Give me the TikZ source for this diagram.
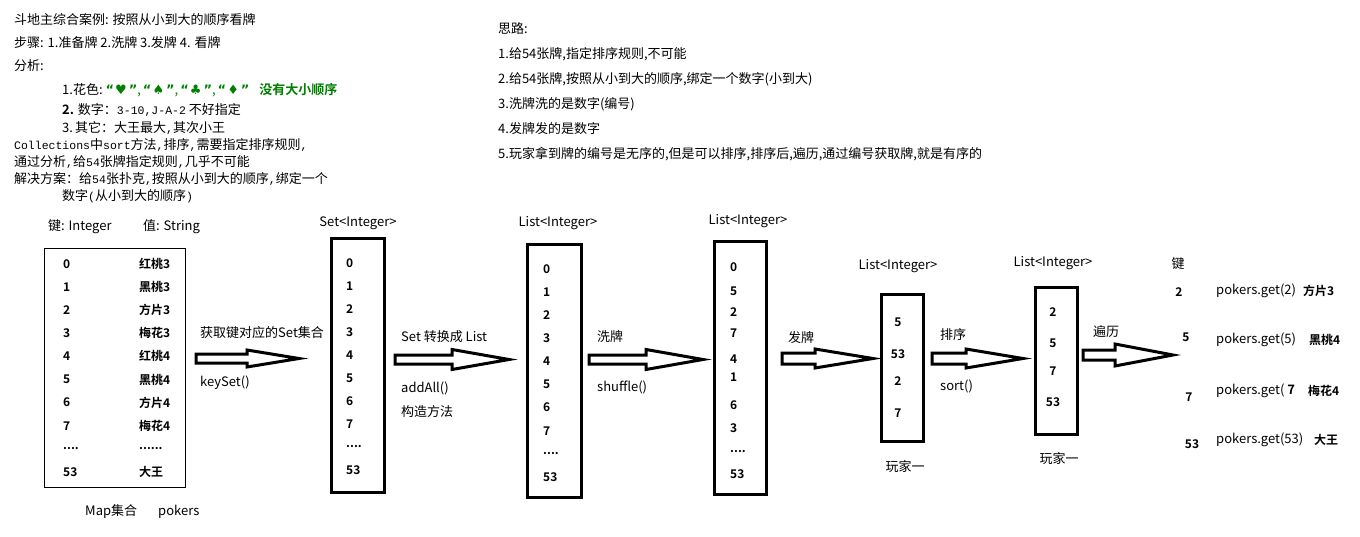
\documentclass[tikz,border=0pt]{standalone}
\usepackage{fontspec}
\setmainfont{Noto Sans CJK SC}[BoldFont={Noto Sans CJK SC Bold}]
\newfontfamily\symf{DejaVu Sans}
\newfontfamily\monof{Liberation Mono}
\definecolor{dkgreen}{RGB}{0,128,0}
\newcommand\myft{\fontsize{13}{15}\selectfont}
\newcommand\mm[1]{{\monof\fontsize{11.5}{13}\selectfont #1}}
\newcommand\suit[1]{{\symf\fontsize{13}{15}\selectfont #1}}
\newcommand\sq[1]{{\symf\bfseries “}\hspace{1pt}\suit{#1}\hspace{2pt}{\symf\bfseries ”}}
\newcommand\fourdots{....}
\newcommand\sixdots{......}
\newcommand\barrow[6]{%
  \draw[arrowline] (#1,#4-#5) -- (#2,#4-#5) -- (#2,#4-#6) -- (#3,#4)
    -- (#2,#4+#6) -- (#2,#4+#5) -- (#1,#4+#5) -- cycle;}
\tikzset{
  txt/.style={anchor=west, inner sep=0pt, font=\myft},
  ctxt/.style={anchor=center, inner sep=0pt, font=\myft},
  num/.style={anchor=west, inner sep=0pt, font=\bfseries\fontsize{12}{14}\selectfont},
  cnum/.style={anchor=center, inner sep=0pt, font=\bfseries\fontsize{12}{14}\selectfont},
  thinbox/.style={draw, line width=1pt, anchor=north west, inner sep=0pt},
  thickbox/.style={draw, line width=3.2pt, anchor=north west, inner sep=0pt},
  arrowline/.style={draw, line width=3pt, line join=miter}
}
\begin{document}
\begin{tikzpicture}[x=1pt,y=-1pt]
\fill[white] (0,0) rectangle (1360,537);
\useasboundingbox (0,0) rectangle (1360,537);

% top-left notes
\node[txt] (t1) at (14,20) {斗地主综合案例: 按照从小到大的顺序看牌};
\node[txt] (t2) at (14,43) {步骤: 1.准备牌 2.洗牌 3.发牌 4. 看牌};
\node[txt] (t3) at (14,66) {分析:};
\node[txt] (t4) at (62,90) {1.花色:\hspace{3pt}\textcolor{dkgreen}{\sq{♥},\hspace{2pt}\sq{♠},\hspace{2pt}\sq{♣},\hspace{2pt}\sq{♦}\hspace{10pt}\textbf{没有大小顺序}}};
\node[txt] (t5) at (62,110) {\textbf{2.} 数字：\mm{3-10,J-A-2} 不好指定};
\node[txt] (t6) at (62,128) {3.\,其它：大王最大\mm{,}其次小王};
\node[txt] (t7) at (14,145) {\mm{Collections}中\mm{sort}方法\mm{,}排序\mm{,}需要指定排序规则\mm{,}};
\node[txt] (t8) at (14,162) {通过分析\mm{,}给\mm{54}张牌指定规则\mm{,}几乎不可能};
\node[txt] (t9) at (14,179) {解决方案：给\mm{54}张扑克\mm{,}按照从小到大的顺序\mm{,}绑定一个};
\node[txt] (t10) at (62,196) {数字\mm{(}从小到大的顺序\mm{)}};

% top-right notes
\node[txt] (r0) at (498,29) {思路:};
\node[txt] (r1) at (498,54) {1.给54张牌,指定排序规则,不可能};
\node[txt] (r2) at (498,79) {2.给54张牌,按照从小到大的顺序,绑定一个数字(小到大)};
\node[txt] (r3) at (498,104) {3.洗牌洗的是数字(编号)};
\node[txt] (r4) at (498,129) {4.发牌发的是数字};
\node[txt] (r5) at (498,154) {5.玩家拿到牌的编号是无序的,但是可以排序,排序后,遍历,通过编号获取牌,就是有序的};

% Map box
\node[txt] (mkh) at (48,227) {键: Integer};
\node[txt] (mvh) at (143,227) {值: String};
\node[thinbox, minimum width=141pt, minimum height=239pt] (map) at (44,248) {};
\foreach \k/\v [count=\i] in {0/红桃3,1/黑桃3,2/方片3,3/梅花3,4/红桃4,5/黑桃4,6/方片4,7/梅花4,\fourdots/\sixdots,53/大王}{
  \node[num] (mk\i) at (63,{264+(\i-1)*23.1}) {\k};
  \node[num] (mv\i) at (139,{264+(\i-1)*23.1}) {\v};
}
\node[txt] (mapl) at (85,512) {Map集合};
\node[txt] (mapp) at (158,512) {pokers};

% Set box
\node[ctxt] (seth) at (358,223) {Set<Integer>};
\node[thickbox, minimum width=53pt, minimum height=254pt] (set) at (330,237) {};
\foreach \k [count=\i] in {0,1,2,3,4,5,6,7,\fourdots,53}{
  \node[num] (s\i) at (346,{263+(\i-1)*23}) {\k};
}

% List box 1
\node[ctxt] (l1h) at (558,223) {List<Integer>};
\node[thickbox, minimum width=54pt, minimum height=253pt] (list1) at (526,243) {};
\foreach \k [count=\i] in {0,1,2,3,4,5,6,7,\fourdots,53}{
  \node[num] (la\i) at (543,{269+(\i-1)*23.1}) {\k};
}

% List box 2 (shuffled)
\node[ctxt] (l2h) at (748,221) {List<Integer>};
\node[thickbox, minimum width=52pt, minimum height=253pt] (list2) at (713,240) {};
\foreach \k/\y [count=\i] in {0/267,5/291,2/312,7/333,4/359,1/377,6/405,3/428,\fourdots/452,53/474}{
  \node[num] (lb\i) at (730,\y) {\k};
}

% Player box 1
\node[ctxt] (p1h) at (898,266) {List<Integer>};
\node[thickbox, minimum width=42pt, minimum height=147pt] (p1) at (880,293) {};
\foreach \k/\y [count=\i] in {5/322,53/354,2/381,7/413}{
  \node[cnum] (pa\i) at (898,\y) {\k};
}
\node[ctxt] (p1l) at (905,467) {玩家一};

% Player box 2
\node[ctxt] (p2h) at (1053,263) {List<Integer>};
\node[thickbox, minimum width=42pt, minimum height=147pt] (p2) at (1034,286) {};
\foreach \k/\y [count=\i] in {2/312,5/343,7/371,53/402}{
  \node[cnum] (pb\i) at (1053,\y) {\k};
}
\node[ctxt] (p2l) at (1059,459) {玩家一};

% right side results
\node[ctxt] (kh) at (1178,264) {键};
\node[cnum] (k1) at (1179,292) {2};
\node[cnum] (k2) at (1186,337) {5};
\node[cnum] (k3) at (1189,397) {7};
\node[cnum] (k4) at (1192,444) {53};
\node[txt] (g1) at (1216,291) {pokers.get(2)};
\node[num] (v1) at (1303,291) {方片3};
\node[txt] (g2) at (1216,340) {pokers.get(5)};
\node[num] (v2) at (1309,340) {黑桃4};
\node[txt] (g3) at (1216,391) {pokers.get( \textbf{7}};
\node[num] (v3) at (1308,391) {梅花4};
\node[txt] (g4) at (1216,440) {pokers.get(53)};
\node[num] (v4) at (1314,440) {大王};

% block arrows
\barrow{196}{247}{299}{358.5}{4.5}{8.5}
\barrow{395}{452}{509}{359.5}{4.5}{10}
\barrow{589}{646}{703}{359.5}{4.5}{10}
\barrow{782}{815}{873}{358.5}{5.5}{9.5}
\barrow{932}{966}{1023}{358.5}{5.5}{9.5}
\barrow{1083}{1115}{1173}{355}{5}{11}

% arrow labels
\node[txt] (a1t) at (200,333) {获取键对应的Set集合};
\node[txt] (a1b) at (200,383) {keySet()};
\node[txt] (a2t) at (401,337) {Set 转换成 List};
\node[txt] (a2b) at (401,388) {addAll()};
\node[txt] (a2c) at (401,412) {构造方法};
\node[txt] (a3t) at (597,337) {洗牌};
\node[txt] (a3b) at (597,387) {shuffle()};
\node[txt] (a4t) at (788,338) {发牌};
\node[txt] (a5t) at (940,335) {排序};
\node[txt] (a5b) at (940,386) {sort()};
\node[txt] (a6t) at (1093,332) {遍历};
\end{tikzpicture}
\end{document}
